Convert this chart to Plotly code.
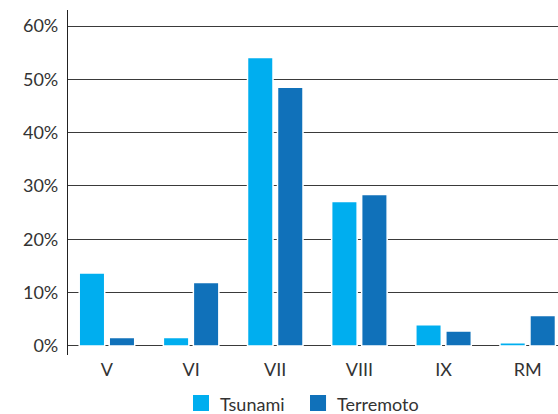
import plotly.graph_objects as go

categories = ["V", "VI", "VII", "VIII", "IX", "RM"]
tsunami = [13.7, 1.6, 54.1, 27.1, 4.0, 0.6]
terremoto = [1.6, 11.9, 48.5, 28.4, 2.8, 5.7]
y_ticks = [0, 10, 20, 30, 40, 50, 60]
series_names = ["Tsunami", "Terremoto"]

TSU_COLOR = "#00AEEF"
TER_COLOR = "#1071BA"
TEXT_COLOR = "#333333"
FONT = "Lato"
colors = [TSU_COLOR, TER_COLOR]

fig = go.Figure()
for name, vals, color in zip(series_names, [tsunami, terremoto], colors):
    fig.add_trace(go.Bar(
        x=categories, y=vals, name=name, showlegend=False,
        marker=dict(color=color, line=dict(color="white", width=1.5)),
    ))

# legend drawn below the plot: a coloured square followed by the series name
legend_x = [0.2551, 0.4939]   # left edge of each swatch (paper units)
swatch_w = 0.0327
for name, color, x0 in zip(series_names, colors, legend_x):
    fig.add_shape(type="rect", xref="paper", yref="paper",
                  x0=x0, x1=x0 + swatch_w, y0=-0.1623, y1=-0.1159,
                  fillcolor=color, line=dict(width=0))
    fig.add_annotation(xref="paper", yref="paper", x=x0 + 0.052, y=-0.142,
                       xanchor="left", yanchor="middle", showarrow=False, text=name,
                       font=dict(family=FONT, size=18, color=TEXT_COLOR))

fig.update_layout(
    width=558, height=414,
    margin=dict(l=68, r=0, t=10, b=59, autoexpand=False),
    paper_bgcolor="white", plot_bgcolor="white",
    barmode="group", bargap=0.287, bargroupgap=0.15,
    font=dict(family=FONT, size=18, color=TEXT_COLOR),
    showlegend=False,
    xaxis=dict(type="category", range=[-0.463, 5.36], showgrid=False, zeroline=False,
               showline=False, ticks="", ticklabelstandoff=2, automargin=False,
               tickfont=dict(family=FONT, size=18, color=TEXT_COLOR),
               fixedrange=True),
    yaxis=dict(range=[-1.69, 63.0], tickvals=y_ticks, ticktext=[f"{v}%" for v in y_ticks],
               showgrid=True, gridcolor="#3a3a3a", gridwidth=1.2,
               zeroline=True, zerolinecolor="#3a3a3a", zerolinewidth=1.2,
               showline=True, linecolor="#222222", linewidth=1.2,
               ticks="", ticklabelstandoff=5, automargin=False,
               tickfont=dict(family=FONT, size=18, color=TEXT_COLOR), fixedrange=True),
)

fig.write_html("out.html", config={"displayModeBar": False})
